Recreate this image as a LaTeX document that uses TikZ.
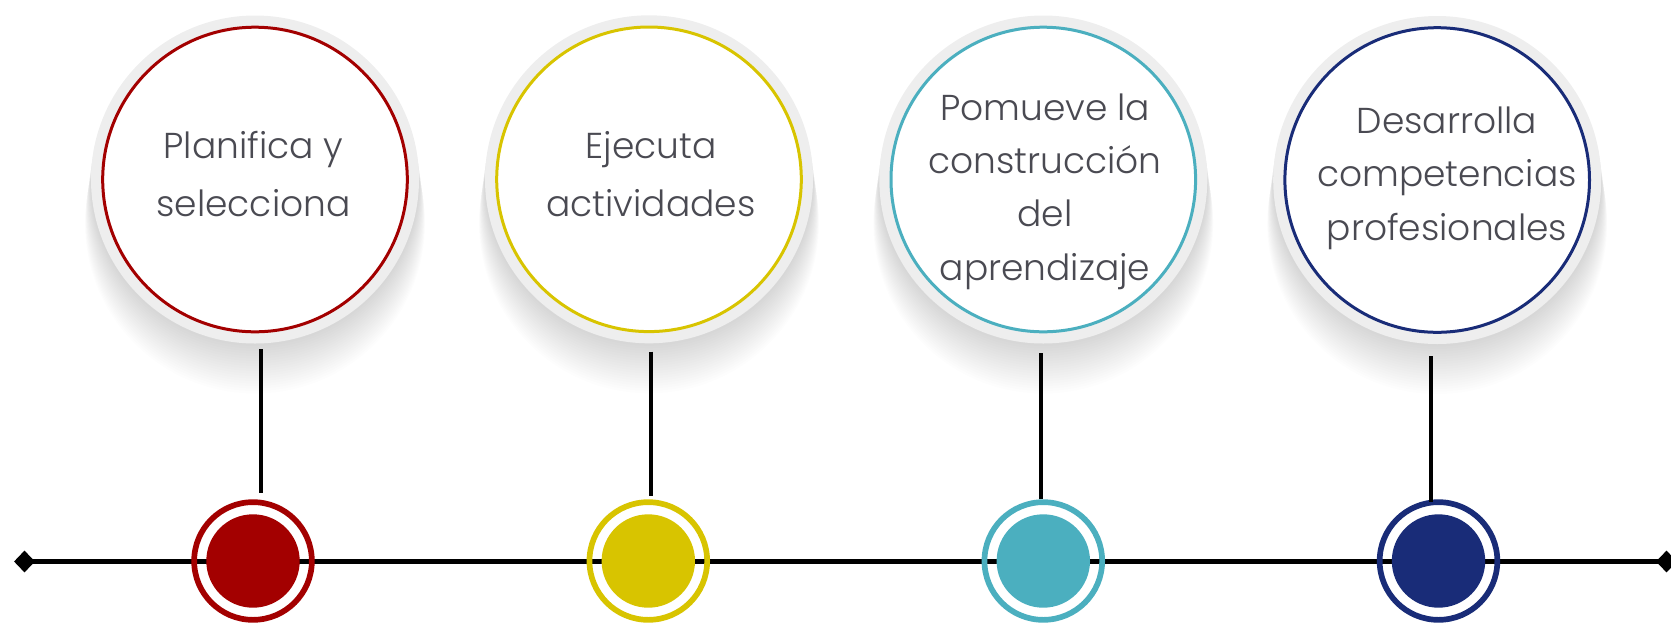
\documentclass[tikz,border=0pt]{standalone}
\usepackage{fontspec}
\usetikzlibrary{shapes.geometric}
\IfFontExistsTF{Poppins Light}{\newfontfamily\labelfont{Poppins Light}}{\newfontfamily\labelfont{Poppins}}
\definecolor{cred}{RGB}{163,0,0}
\definecolor{cyellow}{RGB}{216,196,0}
\definecolor{cteal}{RGB}{75,175,191}
\definecolor{cnavy}{RGB}{25,44,120}
\definecolor{txtgray}{RGB}{74,74,82}
\definecolor{halo}{RGB}{238,238,238}
\tikzset{
  bigcircle/.style={circle, draw=#1, line width=3pt, fill=white, minimum size=304.6pt, inner sep=0pt},
  halodisk/.style={circle, fill=halo, minimum size=328pt, inner sep=0pt},
  ringmark/.style={circle, draw=#1, line width=5.7pt, minimum size=117.7pt, inner sep=0pt},
  dotmark/.style={circle, fill=#1, minimum size=93.4pt, inner sep=0pt},
  steptext/.style={text=txtgray, align=center, anchor=base, inner sep=0pt,
    font=\labelfont\fontsize{36pt}{#1}\selectfont},
  stem/.style={line width=3.6pt, black},
  axisline/.style={line width=4.2pt, black},
  endmark/.style={diamond, fill=black, minimum width=21pt, minimum height=22pt, inner sep=0pt},
}
\begin{document}
\begin{tikzpicture}[x=1pt,y=-1pt]
\useasboundingbox (0,0) rectangle (1671,622);
% big circles with halo and shadow
\foreach \n/\cx/\cy/\col in {1/255/179.5/cred, 2/649/179.3/cyellow, 3/1043.3/179.5/cteal, 4/1437.2/180/cnavy}{
  \foreach \i in {1,...,20}{
    \fill[black, opacity=0.009] (\cx,\cy+2.2*\i) circle ({(164+0.3*\i)*1pt});
  }
  \node[halodisk] (g\n) at (\cx,\cy) {};
  \node[bigcircle=\col] (c\n) at (\cx,\cy) {};
}
% texts (anchor = baseline of the last line)
\node[steptext=58.3pt] (t1) at (253.5,216.7) {Planifica y\\selecciona};
\node[steptext=58.3pt] (t2) at (651,216.7) {Ejecuta\\actividades};
\node[steptext=53.3pt] (t3) at (1045,280) {Pomueve la\\construcción\\del\\aprendizaje};
\node[steptext=53.3pt] (t4) at (1447,240) {Desarrolla\\competencias\\profesionales};
% timeline
\node[endmark] (L) at (24.5,561.5) {};
\node[endmark] (R) at (1666.5,561.5) {};
\draw[axisline] (L.center) -- (R.center);
% markers
\foreach \n/\mx/\col in {1/253/cred, 2/648.3/cyellow, 3/1043.3/cteal, 4/1438.5/cnavy}{
  \node[ringmark=\col] (m\n) at (\mx,561) {};
  \node[dotmark=\col] (d\n) at (m\n.center) {};
}
% stems
\coordinate (s1a) at (260.7,349.3); \coordinate (s1b) at (260.7,493.3);
\coordinate (s2a) at (650.7,351.7); \coordinate (s2b) at (650.7,495.7);
\coordinate (s3a) at (1040.7,353.3); \coordinate (s3b) at (1040.7,499.3);
\coordinate (s4a) at (1430.7,356); \coordinate (s4b) at (1430.7,501.7);
\draw[stem] (s1a) -- (s1b);
\draw[stem] (s2a) -- (s2b);
\draw[stem] (s3a) -- (s3b);
\draw[stem] (s4a) -- (s4b);
\end{tikzpicture}
\end{document}
